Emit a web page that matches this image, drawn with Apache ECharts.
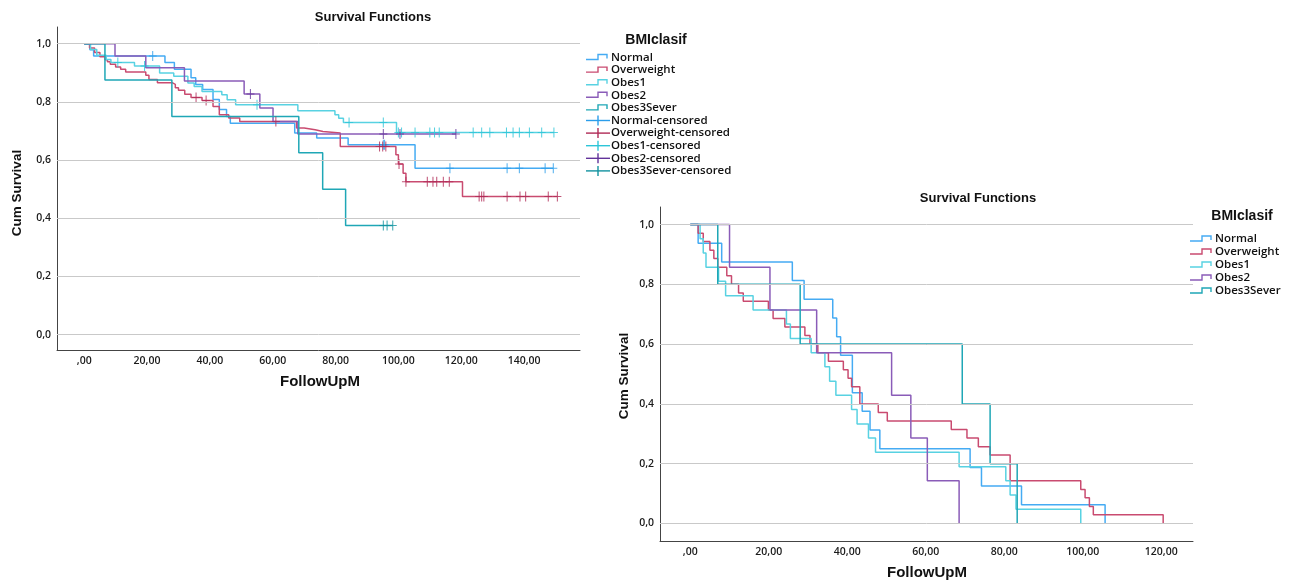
<!DOCTYPE html>
<html>
<head>
<meta charset="utf-8">
<script src="https://cdn.jsdelivr.net/npm/echarts@6/dist/echarts.min.js"></script>
<style>
  html, body { margin: 0; padding: 0; background: #ffffff; }
  #chart { width: 1296px; height: 583px; }
</style>
</head>
<body>
<div id="chart"></div>
<script>
// Kaplan-Meier estimates by BMI class.
// Steps are [month, cumulative survival just after the event]; censored lists hold months.
const groups = ['Normal', 'Overweight', 'Obes1', 'Obes2', 'Obes3Sever'];

// Whole cohort (with censored follow-up)
const cohortNormal = [[0,1],[1.8,0.979],[3,0.958],[25.7,0.935],[28.7,0.912],[34,0.883],[35.5,0.86],[37.7,0.843],[41,0.808],[43,0.774],[45.3,0.75],[46.5,0.727],[67,0.693],[74,0.676],[84,0.653],[105.3,0.572]];
const cohortNormalCens = [21.8,95.2,95.6,116.4,134.6,138.5,146.7,149.3];

const cohortOverweight = [[0,1],[1.7,0.985],[3.3,0.97],[5,0.955],[6.6,0.945],[7.4,0.938],[8.3,0.929],[10,0.92],[11.6,0.912],[13.2,0.903],[19.6,0.892],[20.6,0.877],[23.3,0.866],[28,0.86],[29,0.849],[30,0.84],[32,0.826],[34,0.815],[37.5,0.805],[41,0.784],[43,0.756],[46,0.745],[49.5,0.733],[67.6,0.71],[70,0.704],[73.5,0.698],[76,0.693],[81.5,0.647],[99.2,0.618],[100,0.587],[101.5,0.555],[102.4,0.526],[120.4,0.475]];
const cohortOverweightCens = [35.6,38.8,61,94,95,96,100.2,102.4,109.2,111,112.2,114.3,116.2,125.7,126.5,127.2,134.6,138.7,140.5,147.7,150.6];

const cohortObes1 = [[0,1],[2,0.98],[4,0.96],[7,0.946],[8.5,0.935],[16,0.923],[24,0.899],[28.5,0.888],[33,0.865],[35,0.853],[37.5,0.836],[43.8,0.825],[45.5,0.807],[48.2,0.79],[68,0.77],[79.8,0.756],[81,0.744],[82.5,0.729],[99.4,0.695]];
const cohortObes1Cens = [10.7,19.2,55,84.3,95.2,100,101,105.3,110,111.5,113,123.8,126.5,129.1,134.4,136.5,138.5,141.7,145.6,149.5];

const cohortObes2 = [[0,1],[9.8,0.958],[19.6,0.917],[31.9,0.872],[50.9,0.827],[55.9,0.779],[60.1,0.733],[68,0.69]];
const cohortObes2Cens = [52.9,95.2,100.5,118.3];

const cohortObes3 = [[0,1],[6.6,0.875],[27.9,0.75],[68.3,0.625],[75.9,0.5],[83.2,0.375]];
const cohortObes3Cens = [95.2,96.4,98.2];

// Deceased patients only (no censoring)
const deadNormal = [[0,1],[2,0.9375],[8,0.875],[26,0.8125],[29,0.75],[36.3,0.6875],[37.3,0.625],[38.3,0.5625],[41.3,0.4375],[43.8,0.375],[45.8,0.3125],[48.3,0.25],[71.3,0.1875],[74.2,0.125],[84.4,0.0625],[105.7,0]];
const deadOverweight = [[0,1],[2,0.971],[3.3,0.943],[5,0.914],[6,0.886],[7,0.857],[9.3,0.829],[10.5,0.8],[12.3,0.771],[13.5,0.743],[19.9,0.714],[21.1,0.686],[24.1,0.657],[29.2,0.629],[30.5,0.6],[32.5,0.571],[35.2,0.543],[39,0.514],[40.2,0.486],[41.1,0.457],[43.2,0.4],[47.9,0.371],[50.2,0.343],[66.5,0.314],[70.5,0.286],[73.4,0.257],[76.4,0.229],[81.5,0.143],[99.5,0.114],[100.6,0.086],[101.7,0.057],[102.7,0.029],[120.5,0]];
const deadObes1 = [[0,1],[2.5,0.952],[3.3,0.905],[4,0.857],[7.2,0.81],[9,0.762],[16,0.714],[24.5,0.667],[25.5,0.619],[30.8,0.571],[34.3,0.524],[35.5,0.476],[37.1,0.429],[41.1,0.381],[42.5,0.333],[45.4,0.286],[47.2,0.238],[68.5,0.19],[80.4,0.143],[81.5,0.095],[83,0.048],[99.5,0]];
const deadObes2 = [[0,1],[10,0.857],[20.3,0.714],[32.2,0.571],[51.3,0.429],[56.2,0.286],[60.4,0.143],[68.5,0]];
const deadObes3 = [[0,1],[7,0.8],[28,0.6],[69.3,0.4],[76.4,0.2],[83.3,0]];

const xTicksLeft = [0, 20, 40, 60, 80, 100, 120, 140];
const xTicksRight = [0, 20, 40, 60, 80, 100, 120];
const yTicks = [0, 0.2, 0.4, 0.6, 0.8, 1.0];

const lineColors = ['#45ABF3', '#C94B70', '#58D2E2', '#8A5CB8', '#1FA7B6'];
const censColors = ['#2B9DEA', '#B02A56', '#2DC5D8', '#62339A', '#12929F'];

const FONT = '"Open Sans"';
const BOLD_FONT = '"Liberation Sans"';

// survival value at time t on a step curve
function survivalAt(steps, t) {
  let s = steps[0][1];
  for (const [tt, v] of steps) { if (tt <= t) s = v; }
  return s;
}
// curve extended horizontally to the last follow-up time
function curveData(steps, cens) {
  const pts = steps.slice();
  const last = pts[pts.length - 1];
  const end = cens.length ? Math.max(...cens) : last[0];
  if (end > last[0]) pts.push([end, last[1]]);
  return pts;
}

const plusPath = 'path://M-0.13,-1H0.13V-0.1H1V0.1H0.13V1H-0.13V0.1H-1V-0.1H-0.13Z';

const series = [];
function gridLines(idx) {
  series.push({
    type: 'line', xAxisIndex: idx, yAxisIndex: idx, data: [], silent: true, z: 1,
    markLine: {
      silent: true, symbol: ['none', 'none'], animation: false,
      label: { show: false },
      lineStyle: { color: '#C9C9C9', width: 1, type: 'solid' },
      data: yTicks.map(v => ({ yAxis: v }))
    }
  });
}
gridLines(0);
gridLines(1);

const cohort = [
  [cohortNormal, cohortNormalCens],
  [cohortOverweight, cohortOverweightCens],
  [cohortObes1, cohortObes1Cens],
  [cohortObes2, cohortObes2Cens],
  [cohortObes3, cohortObes3Cens]
];
cohort.forEach(([steps, cens], i) => {
  series.push({
    name: groups[i], type: 'line', step: 'end', xAxisIndex: 0, yAxisIndex: 0,
    data: curveData(steps, cens), showSymbol: false, z: 3,
    lineStyle: { color: lineColors[i], width: 1.5 }, animation: false
  });
});
cohort.forEach(([steps, cens], i) => {
  series.push({
    name: groups[i] + '-censored', type: 'scatter', xAxisIndex: 0, yAxisIndex: 0,
    data: cens.map(t => [t, survivalAt(steps, t)]),
    symbol: plusPath, symbolSize: [8, 10], z: 4,
    itemStyle: { color: censColors[i] }, animation: false
  });
});
[deadNormal, deadOverweight, deadObes1, deadObes2, deadObes3].forEach((steps, i) => {
  series.push({
    name: groups[i], type: 'line', step: 'end', xAxisIndex: 1, yAxisIndex: 1,
    data: steps, showSymbol: false, z: 3,
    lineStyle: { color: lineColors[i], width: 1.5 }, animation: false
  });
});

const tickLabel = { fontFamily: 'Open Sans', fontWeight: 600, fontSize: 10.5, color: '#1a1a1a' };
function xAxis(gridIndex, min, max, ticks) {
  return {
    type: 'value', gridIndex, min, max,
    axisLine: { show: true, onZero: false, lineStyle: { color: '#444', width: 1 } },
    axisTick: { show: false }, splitLine: { show: false },
    axisLabel: Object.assign({
      margin: 6, customValues: ticks,
      formatter: v => (v === 0 ? ',00' : v + ',00')
    }, tickLabel)
  };
}
function yAxis(gridIndex, min, max) {
  return {
    type: 'value', gridIndex, min, max,
    axisLine: { show: true, onZero: false, lineStyle: { color: '#444', width: 1 } },
    axisTick: { show: false }, splitLine: { show: false },
    axisLabel: Object.assign({
      margin: 6, customValues: yTicks,
      formatter: v => v.toFixed(1).replace('.', ',')
    }, tickLabel)
  };
}

// legend drawn as graphic elements
function legend(x, titleCx, titleY, firstY, dy, withCensored) {
  const els = [{
    type: 'text', x: titleCx, y: titleY,
    style: { text: 'BMIclasif', font: 'bold 14px ' + BOLD_FONT, fill: '#111', align: 'center', verticalAlign: 'middle' }
  }];
  const items = groups.map((g, i) => ({ name: g, color: lineColors[i], kind: 'line' }));
  if (withCensored) groups.forEach((g, i) => items.push({ name: g + '-censored', color: censColors[i], kind: 'cens' }));
  items.forEach((it, k) => {
    const y = firstY + k * dy;
    if (it.kind === 'line') {
      els.push({ type: 'polyline', shape: { points: [[x, y + 2], [x + 12, y + 2], [x + 12, y - 3], [x + 21, y - 3], [x + 21, y + 1]] },
        style: { stroke: it.color, lineWidth: 1.4, fill: null } });
    } else {
      els.push({ type: 'polyline', shape: { points: [[x, y], [x + 24, y]] }, style: { stroke: it.color, lineWidth: 1.4, fill: null } });
      els.push({ type: 'polyline', shape: { points: [[x + 12, y - 5], [x + 12, y + 5]] }, style: { stroke: it.color, lineWidth: 1.4, fill: null } });
    }
    els.push({ type: 'text', x: x + 25, y: y,
      style: { text: it.name, font: '600 11.5px ' + FONT, fill: '#111', verticalAlign: 'middle' } });
  });
  return els;
}

const titleFont = 'bold 13px ' + BOLD_FONT;
const nameFont = 'bold 15px ' + BOLD_FONT;
const yNameFont = 'bold 13.5px ' + BOLD_FONT;

const option = {
  backgroundColor: '#ffffff',
  animation: false,
  grid: [
    { left: 57, top: 27, width: 523, height: 323 },
    { left: 660, top: 207, width: 533, height: 334 }
  ],
  xAxis: [xAxis(0, -8.66, 157.8, xTicksLeft), xAxis(1, -7.72, 128.1, xTicksRight)],
  yAxis: [yAxis(0, -0.0526, 1.0574), yAxis(1, -0.0586, 1.0586)],
  series,
  graphic: [
    { type: 'text', x: 373, y: 17, style: { text: 'Survival Functions', font: titleFont, fill: '#111', align: 'center', verticalAlign: 'middle' } },
    { type: 'text', x: 978, y: 198, style: { text: 'Survival Functions', font: titleFont, fill: '#111', align: 'center', verticalAlign: 'middle' } },
    { type: 'text', x: 320, y: 382, style: { text: 'FollowUpM', font: nameFont, fill: '#111', align: 'center', verticalAlign: 'middle' } },
    { type: 'text', x: 927, y: 573, style: { text: 'FollowUpM', font: nameFont, fill: '#111', align: 'center', verticalAlign: 'middle' } },
    { type: 'text', x: 17, y: 193, rotation: Math.PI / 2, style: { text: 'Cum Survival', font: yNameFont, fill: '#111', align: 'center', verticalAlign: 'middle' } },
    { type: 'text', x: 624, y: 376, rotation: Math.PI / 2, style: { text: 'Cum Survival', font: yNameFont, fill: '#111', align: 'center', verticalAlign: 'middle' } }
  ].concat(legend(586, 656, 40, 57.5, 12.6, true), legend(1190, 1242, 216, 239, 13, false))
};

const chart = echarts.init(document.getElementById('chart'), null, { renderer: 'canvas' });
chart.setOption(option);
</script>
</body>
</html>
